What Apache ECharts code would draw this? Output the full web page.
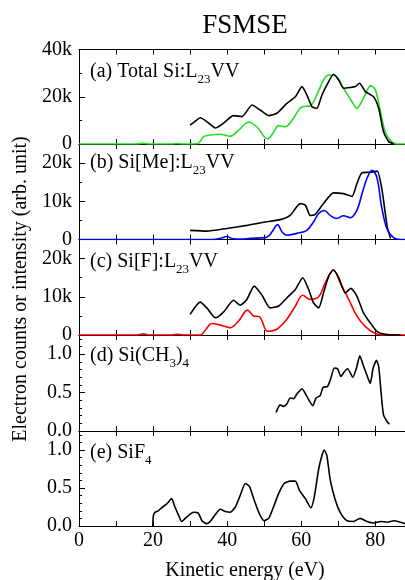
<!DOCTYPE html>
<html><head><meta charset="utf-8">
<script src="https://cdn.jsdelivr.net/npm/echarts@6/dist/echarts.min.js"></script>
<style>html,body{margin:0;padding:0;background:#fff}#c{width:405px;height:580px}</style>
</head><body><div id="c"></div>
<script>
// ---------- data (energies in eV, counts in thousands for panels a-c) ----------
const xTickValues = [0, 10, 20, 30, 40, 50, 60, 70, 80];
const xLabelValues = [0, 20, 40, 60, 80];

// (a) Total Si:L23VV
const aExpX = [30, 31.5, 32.7, 34.5, 36.8, 39.0, 41.7, 44.0, 46.7, 48.9, 51.2, 53.4, 56.1, 58.4, 60.2, 61.5, 62.9, 64.2, 65.6, 67.4, 68.7, 70.1, 71.4, 73.2, 74.6, 75.7, 77.3, 79.5, 80.9, 82.2, 83.6, 85.0];
const aExpY = [8.0, 9.8, 11.1, 9.5, 6.8, 8.8, 12.0, 11.6, 16.5, 14.4, 12.0, 13.0, 17.2, 20.0, 24.3, 20.8, 15.8, 15.1, 20.8, 26.4, 29.5, 27.1, 23.6, 23.9, 24.3, 25.7, 22.2, 20.0, 15.1, 5.2, 1.0, 0.1];
const aCalcX = [0, 15.5, 17.4, 19, 25, 26.5, 28, 32.0, 33.6, 35.4, 38.1, 40.8, 43.1, 45.8, 48.0, 50.9, 52.5, 53.9, 55.7, 57.9, 60.2, 62.4, 64.2, 66.0, 67.4, 69.2, 71.4, 73.7, 75.0, 76.8, 78.8, 80.0, 81.4, 82.7, 84.5, 85.9, 88];
const aCalcY = [0, 0, 0.3, 0, 0, 0.2, 0, 0.1, 3.1, 3.8, 4.1, 3.3, 5.9, 9.2, 7.3, 2.1, 4.9, 7.8, 7.3, 10.9, 15.8, 16.2, 20.8, 27.1, 29.2, 28.9, 23.6, 17.9, 15.1, 19.4, 24.7, 22.9, 13.7, 5.0, 0.7, 0, 0];

// (b) Si[Me]:L23VV
const bExpX = [30, 34.5, 39.9, 45.3, 49.8, 54.3, 57.0, 59.7, 61.1, 62.4, 63.8, 66.0, 68.7, 71.4, 73.7, 75.0, 76.4, 78.6, 80.5, 81.8, 83.2, 84.1];
const bExpY = [2.4, 2.2, 2.9, 3.7, 4.5, 5.2, 6.3, 9.4, 9.0, 6.3, 6.6, 9.4, 12.2, 12.0, 11.3, 14.6, 17.5, 17.6, 17.9, 12.9, 3.3, 0.3];
const bCalcX = [0, 36, 38.5, 39.9, 41.5, 44, 46.2, 50.3, 51.3, 52.1, 53.6, 54.8, 56.1, 58.8, 61.5, 63.3, 64.7, 66.2, 67.8, 69.6, 71.4, 73.2, 75.0, 76.4, 77.7, 79.1, 80.4, 81.7, 83.1, 84.9, 86.8, 88];
const bCalcY = [0, 0, 0.4, 0.8, 0.2, 0.1, 0.3, 0.5, 1.0, 2.0, 3.9, 2.0, 1.1, 1.6, 2.4, 4.6, 6.8, 7.6, 6.3, 5.5, 6.2, 5.7, 7.6, 12.0, 15.9, 18.1, 16.3, 8.5, 2.9, 0.5, 0, 0];

// (c) Si[F]:L23VV
const cExpX = [30, 32.7, 34.5, 36.8, 39.0, 41.7, 43.5, 45.3, 47.3, 49.4, 51.6, 53.9, 56.1, 58.4, 60.4, 62.0, 63.3, 64.7, 66.0, 67.4, 68.6, 70.1, 71.9, 73.4, 75.0, 76.8, 78.6, 80.5, 83.2, 86.8];
const cExpY = [5.4, 8.6, 7.1, 4.5, 6.0, 9.1, 7.8, 9.3, 12.8, 10.4, 7.1, 7.6, 9.7, 11.9, 15.0, 11.9, 8.4, 7.1, 11.0, 15.4, 17.0, 15.0, 11.0, 12.2, 10.2, 5.8, 3.2, 0.9, 0.1, 0];
const cCalcX = [0, 15.5, 17.4, 19, 25, 26.5, 28, 32.7, 34.3, 35.8, 38.6, 40.8, 43.1, 45.5, 47.1, 48.7, 50.9, 53.4, 56.1, 58.4, 60.4, 62.4, 64.7, 66.5, 68.7, 70.5, 72.8, 75.0, 77.3, 80.0, 83.2, 88];
const cCalcY = [0, 0, 0.3, 0, 0, 0.2, 0, 0, 1.5, 3.0, 2.5, 1.9, 3.7, 6.5, 5.0, 4.8, 1.0, 1.5, 4.1, 7.6, 10.4, 9.3, 10.0, 13.7, 17.0, 13.7, 9.3, 5.0, 2.2, 0.4, 0, 0];

// (d) Si(CH3)4
const dX = [53.2, 54.3, 55.2, 56.1, 57.0, 57.9, 58.8, 60.2, 61.5, 63.1, 64.0, 65.1, 65.9, 67.1, 68.0, 68.9, 69.8, 70.7, 71.6, 72.5, 73.9, 74.9, 75.8, 76.7, 77.7, 78.6, 79.4, 80.3, 80.9, 81.6, 82.2, 83.2, 83.8];
const dY = [0.24, 0.34, 0.32, 0.35, 0.43, 0.42, 0.48, 0.55, 0.45, 0.33, 0.43, 0.46, 0.57, 0.58, 0.69, 0.82, 0.81, 0.71, 0.77, 0.81, 0.70, 0.82, 0.98, 0.86, 0.73, 0.62, 0.82, 0.92, 0.84, 0.47, 0.21, 0.12, 0.09];

// (e) SiF4
const eX = [19.9, 20.1, 20.5, 21.4, 22.3, 23.7, 25.0, 25.9, 26.8, 27.7, 29.1, 30.9, 32.2, 33.2, 34.5, 35.6, 36.8, 38.1, 39.5, 40.8, 42.2, 43.5, 44.9, 46.0, 47.3, 48.7, 50.0, 51.2, 52.5, 53.9, 55.4, 57.0, 58.4, 59.5, 61.1, 62.6, 63.5, 64.7, 65.6, 66.2, 66.9, 67.8, 69.2, 70.5, 72.3, 74.1, 75.9, 77.7, 79.5, 81.4, 83.2, 85.0, 86.8, 88.0];
const eY = [0.00, 0.14, 0.18, 0.20, 0.24, 0.29, 0.36, 0.25, 0.15, 0.06, 0.12, 0.18, 0.17, 0.07, 0.03, 0.07, 0.15, 0.22, 0.19, 0.18, 0.25, 0.40, 0.56, 0.52, 0.34, 0.16, 0.07, 0.10, 0.25, 0.43, 0.56, 0.59, 0.59, 0.47, 0.36, 0.24, 0.38, 0.75, 0.93, 1.00, 0.93, 0.61, 0.34, 0.18, 0.07, 0.06, 0.10, 0.06, 0.04, 0.06, 0.05, 0.07, 0.05, 0.03];

// ---------- layout / styling ----------
const FONT = 'Liberation Serif';
const tops = [49.5, 144, 239.5, 335, 431];
const bottomEdge = 526;
const pair = (xs, ys) => xs.map((x, i) => [x, ys[i]]);
const kFmt = v => (v === 0 ? '0' : v + 'k');
const dFmt = v => v.toFixed(1);

const panels = [
  {max: 40, major: [0, 20, 40], minor: [10, 30], fmt: kFmt, labelY: 72,
   label: '{n|(a) Total Si:L}{s|23}{n|VV}',
   lines: [[aCalcX, aCalcY, '#22e022'], [aExpX, aExpY, '#000000']]},
  {max: 25, major: [0, 10, 20], minor: [5, 15], fmt: kFmt, labelY: 163,
   label: '{n|(b) Si[Me]:L}{s|23}{n|VV}',
   lines: [[bExpX, bExpY, '#000000'], [bCalcX, bCalcY, '#0000ff']]},
  {max: 25, major: [0, 10, 20], minor: [5, 15], fmt: kFmt, labelY: 262,
   label: '{n|(c) Si[F]:L}{s|23}{n|VV}',
   lines: [[cCalcX, cCalcY, '#ff0000'], [cExpX, cExpY, '#000000']]},
  {max: 1.25, major: [0, 0.5, 1.0], minor: [0.1, 0.2, 0.3, 0.4, 0.6, 0.7, 0.8, 0.9, 1.1, 1.2], fmt: dFmt, labelY: 356,
   label: '{n|(d) Si(CH}{s|3}{n|)}{s|4}',
   lines: [[dX, dY, '#000000']]},
  {max: 1.25, major: [0, 0.5, 1.0], minor: [0.1, 0.2, 0.3, 0.4, 0.6, 0.7, 0.8, 0.9, 1.1, 1.2], fmt: dFmt, labelY: 453,
   label: '{n|(e) SiF}{s|4}',
   lines: [[eX, eY, '#000000']]}
];

const grids = [], xAxes = [], yAxes = [], series = [], graphics = [];
const black = {color: '#000', width: 1};
panels.forEach((p, i) => {
  const top = tops[i];
  const h = (i < 4 ? tops[i + 1] : bottomEdge) - top;
  grids.push({left: 79, right: 0, top: top, height: h, containLabel: false});
  const last = i === 4;
  ['bottom', 'top'].forEach(pos => {
    xAxes.push({
      gridIndex: i, type: 'value', position: pos, min: 0, max: 88, interval: 10,
      axisLine: {show: true, onZero: false, lineStyle: black},
      axisTick: {show: true, inside: true, length: 5, customValues: xTickValues, lineStyle: black},
      axisLabel: {show: last && pos === 'bottom', customValues: xLabelValues, fontFamily: FONT, fontSize: 20, color: '#000', margin: 5},
      splitLine: {show: false}
    });
  });
  yAxes.push({
    gridIndex: i, type: 'value', position: 'left', min: 0, max: p.max,
    axisLine: {show: true, onZero: false, lineStyle: black},
    axisTick: {show: true, inside: true, length: 6, customValues: p.major, lineStyle: black},
    axisLabel: {show: true, customValues: p.major, formatter: p.fmt, fontFamily: FONT, fontSize: 20, color: '#000', margin: 7},
    splitLine: {show: false}
  });
  yAxes.push({
    gridIndex: i, type: 'value', position: 'left', min: 0, max: p.max,
    axisLine: {show: false},
    axisTick: {show: true, inside: true, length: 3, customValues: p.minor, lineStyle: black},
    axisLabel: {show: false},
    splitLine: {show: false}
  });
  p.lines.forEach(([xs, ys, col]) => {
    series.push({
      type: 'line', xAxisIndex: 2 * i, yAxisIndex: 2 * i,
      data: pair(xs, ys), showSymbol: false, symbol: 'none',
      smooth: col === '#000000' ? 0.2 : 0.35,
      lineStyle: {color: col, width: 1.6}, silent: true
    });
  });
  graphics.push({
    type: 'text', x: 90, y: p.labelY, silent: true,
    style: {
      text: p.label, textVerticalAlign: 'middle', verticalAlign: 'middle', textAlign: 'left', align: 'left',
      rich: {
        n: {fontFamily: FONT, fontSize: 20, lineHeight: 28, fill: '#000', color: '#000'},
        s: {fontFamily: FONT, fontSize: 13, lineHeight: 10, verticalAlign: 'bottom', fill: '#000', color: '#000'}
      }
    }
  });
});

graphics.push({type: 'text', x: 245, y: 26, silent: true,
  style: {text: 'FSMSE', font: '27px "Liberation Serif"', fill: '#000', textAlign: 'center', align: 'center', textVerticalAlign: 'middle', verticalAlign: 'middle'}});
graphics.push({type: 'text', x: 245, y: 571, silent: true,
  style: {text: 'Kinetic energy (eV)', font: '20px "Liberation Serif"', fill: '#000', textAlign: 'center', align: 'center', textVerticalAlign: 'middle', verticalAlign: 'middle'}});
graphics.push({type: 'text', x: 21, y: 289, rotation: Math.PI / 2, silent: true,
  style: {text: 'Electron counts or intensity (arb. unit)', font: '20px "Liberation Serif"', fill: '#000', textAlign: 'center', align: 'center', textVerticalAlign: 'middle', verticalAlign: 'middle'}});

const chart = echarts.init(document.getElementById('c'), null, {renderer: 'canvas'});
chart.setOption({
  animation: false,
  backgroundColor: '#fff',
  grid: grids, xAxis: xAxes, yAxis: yAxes, series: series, graphic: graphics
});
</script></body></html>
